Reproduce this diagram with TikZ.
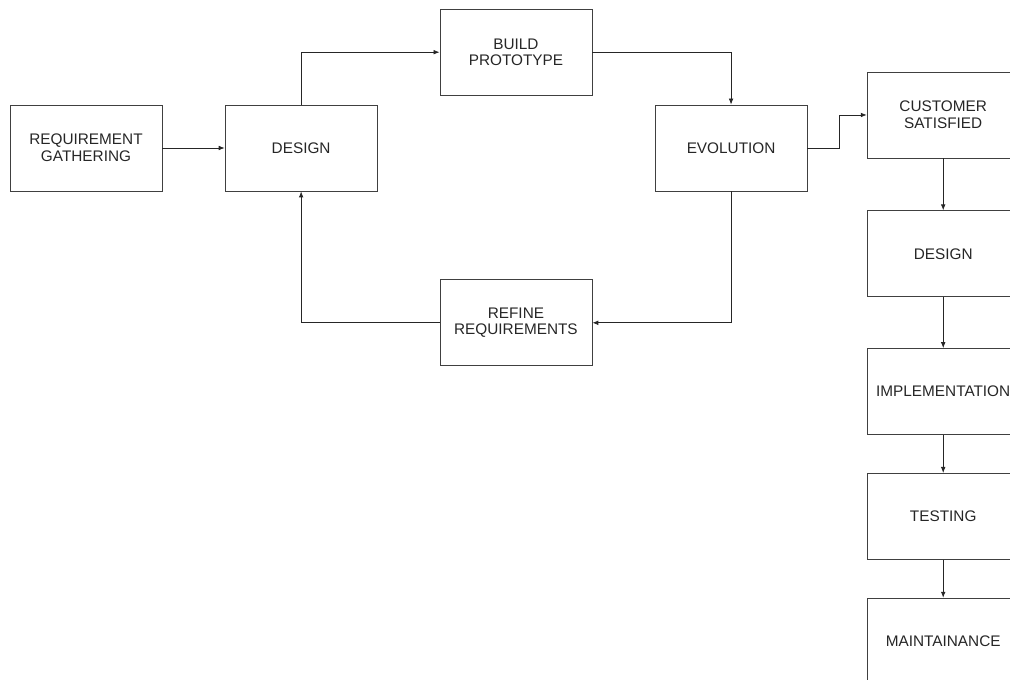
\documentclass[tikz,border=0pt]{standalone}
\usepackage{fontspec}
\setmainfont{Liberation Sans}
\usetikzlibrary{arrows.meta,positioning}
\tikzstyle{stage}=[rectangle,draw=black!75,line width=0.6pt,minimum width=114pt,minimum height=64.5pt,inner sep=1pt,align=center,text=black!85,font=\fontsize{11.5}{12.5}\selectfont]
\tikzstyle{flow}=[-{Latex[length=4.5pt,width=3.5pt]},line width=0.6pt,draw=black!85]

\begin{document}
\begin{tikzpicture}

\clip (0,0) rectangle (757.5pt,-510pt) ;

\node (req) [stage] at (64.5pt,-111pt) {REQUIREMENT\\GATHERING} ;
\node (design) [stage,right=46.75pt of req] {DESIGN} ;
\node (proto) [stage,above right=6.75pt and 46.5pt of design] {BUILD\\PROTOTYPE} ;
\node (evol) [stage,below right=6.75pt and 46.75pt of proto] {EVOLUTION} ;
\node (refine) [stage,below right=66pt and 46.5pt of design] {REFINE\\REQUIREMENTS} ;

\draw [flow] (req) -- (design) ;
\draw [flow] (design.north) |- (proto.west) ;
\draw [flow] (proto.east) -| (evol.north) ;
\draw [flow] (evol.south) |- (refine.east) ;
\draw [flow] (refine.west) -| (design.south) ;

\node (cust) [stage,right=44.5pt of evol,yshift=24.75pt] {CUSTOMER\\SATISFIED} ;
\node (design2) [stage,below=39pt of cust] {DESIGN} ;
\node (impl) [stage,below=38.25pt of design2] {IMPLEMENTATION} ;
\node (test) [stage,below=28.5pt of impl] {TESTING} ;
\node (maint) [stage,below=28.5pt of test] {MAINTAINANCE} ;

\draw [flow] (evol.east) -- ++(24pt,0) |- (cust.west) ;
\draw [flow] (cust) -- (design2) ;
\draw [flow] (design2) -- (impl) ;
\draw [flow] (impl) -- (test) ;
\draw [flow] (test) -- (maint) ;

\end{tikzpicture}
\end{document}
